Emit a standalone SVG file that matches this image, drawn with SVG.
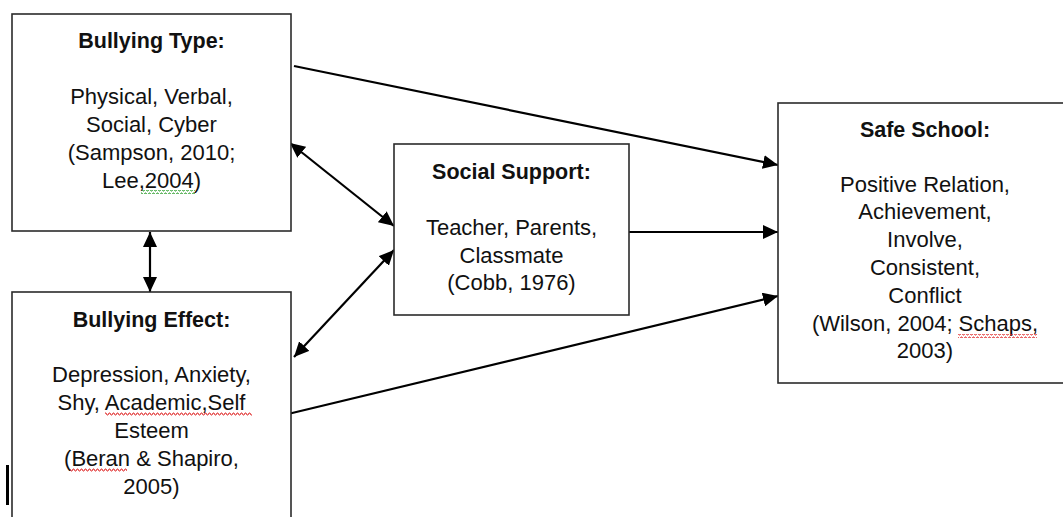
<svg xmlns="http://www.w3.org/2000/svg" width="1063" height="517" viewBox="0 0 1063 517">
<style>
.box{fill:#fff;stroke:#2b2b2b;stroke-width:1.6}
.t{font-family:"Liberation Sans",Arial,sans-serif;font-size:21.5px;font-weight:bold;fill:#111;text-anchor:middle}
.b{font-family:"Liberation Sans",Arial,sans-serif;font-size:22px;fill:#111;text-anchor:middle}
.c{stroke:#000;stroke-width:2.2;fill:none}
</style>
<defs>
<marker id="ah" markerUnits="userSpaceOnUse" markerWidth="16" markerHeight="14" refX="15" refY="7" orient="auto-start-reverse">
<path d="M0,0 L15,7 L0,14 z" fill="#000"/>
</marker>
<pattern id="wr" patternUnits="userSpaceOnUse" width="4" height="4">
<path d="M0,3 L1,1 L2,1 L3,3 L4,3" stroke="#e03030" stroke-width="1" fill="none"/>
</pattern>
<pattern id="wg" patternUnits="userSpaceOnUse" width="4" height="4">
<path d="M0,3 L1,1 L2,1 L3,3 L4,3" stroke="#30a030" stroke-width="1" fill="none"/>
</pattern>
</defs>
<rect width="1063" height="517" fill="#fff"/>
<g id="connectors">
<line class="c" x1="294" y1="66" x2="778" y2="165" marker-end="url(#ah)"/>
<line class="c" x1="290" y1="143" x2="394" y2="226" marker-start="url(#ah)" marker-end="url(#ah)"/>
<line class="c" x1="294" y1="357" x2="394" y2="250" marker-start="url(#ah)" marker-end="url(#ah)"/>
<line class="c" x1="629" y1="232" x2="778" y2="232" marker-end="url(#ah)"/>
<line class="c" x1="288" y1="414" x2="778" y2="296" marker-end="url(#ah)"/>
<line class="c" x1="150" y1="232" x2="150" y2="292" marker-start="url(#ah)" marker-end="url(#ah)"/>
</g>
<g id="bullying-type">
<rect class="box" x="12" y="14" width="279" height="217"/>
<text class="t" x="151.5" y="48">Bullying Type:</text>
<text class="b" x="151.5" y="104">Physical, Verbal,</text>
<text class="b" x="151.5" y="132">Social, Cyber</text>
<text class="b" x="151.5" y="160">(Sampson, 2010;</text>
<text class="b" x="151.5" y="188">Lee,2004)</text>
<rect x="141" y="190" width="54" height="4" fill="url(#wg)"/>
</g>
<g id="bullying-effect">
<rect class="box" x="12" y="292" width="279" height="240"/>
<text class="t" x="151.5" y="327">Bullying Effect:</text>
<text class="b" x="151.5" y="382">Depression, Anxiety,</text>
<text class="b" x="151.5" y="410">Shy, Academic,Self</text>
<text class="b" x="151.5" y="438">Esteem</text>
<text class="b" x="151.5" y="466">(Beran &amp; Shapiro,</text>
<text class="b" x="151.5" y="494">2005)</text>
<rect x="105" y="412" width="147" height="4" fill="url(#wr)"/>
<rect x="70" y="468" width="57" height="4" fill="url(#wr)"/>
</g>
<g id="social-support">
<rect class="box" x="394" y="144" width="235" height="171"/>
<text class="t" x="511.5" y="179">Social Support:</text>
<text class="b" x="511.5" y="235">Teacher, Parents,</text>
<text class="b" x="511.5" y="263">Classmate</text>
<text class="b" x="511.5" y="290">(Cobb, 1976)</text>
</g>
<g id="safe-school">
<rect class="box" x="778" y="103" width="300" height="280"/>
<text class="t" x="925" y="137">Safe School:</text>
<text class="b" x="925" y="192">Positive Relation,</text>
<text class="b" x="925" y="219">Achievement,</text>
<text class="b" x="925" y="247">Involve,</text>
<text class="b" x="925" y="275">Consistent,</text>
<text class="b" x="925" y="303">Conflict</text>
<text class="b" x="925" y="331">(Wilson, 2004; Schaps,</text>
<text class="b" x="925" y="358">2003)</text>
<rect x="958" y="334" width="79" height="4" fill="url(#wr)"/>
</g>
<rect x="6" y="465" width="3" height="40" fill="#000"/>
</svg>
